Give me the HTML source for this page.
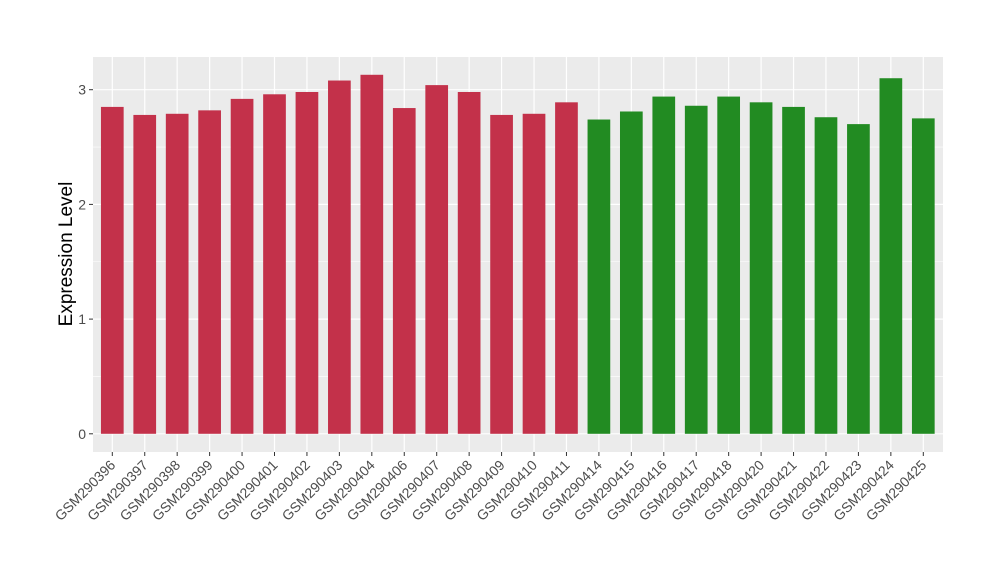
<!DOCTYPE html>
<html><head><meta charset="utf-8"><style>body{margin:0;background:#fff}svg{display:block;font-family:"Liberation Sans",Arial,sans-serif}</style></head>
<body>
<svg id="chart" width="1000" height="580">
<rect x="93" y="57" width="850" height="395" fill="#ebebeb"/>
<g id="grid"></g><g id="bars"></g><g id="yaxis"></g><g id="xaxis"></g>
<text x="0" y="0" transform="translate(72,254) rotate(-90)" text-anchor="middle" font-size="19" fill="#000">Expression Level</text>
</svg>
<script>
const categories=["GSM290396","GSM290397","GSM290398","GSM290399","GSM290400","GSM290401","GSM290402","GSM290403","GSM290404","GSM290406","GSM290407","GSM290408","GSM290409","GSM290410","GSM290411","GSM290414","GSM290415","GSM290416","GSM290417","GSM290418","GSM290420","GSM290421","GSM290422","GSM290423","GSM290424","GSM290425"];
const values=[2.85,2.78,2.79,2.82,2.92,2.96,2.98,3.08,3.13,2.84,3.04,2.98,2.78,2.79,2.89,2.74,2.81,2.94,2.86,2.94,2.89,2.85,2.76,2.70,3.10,2.75];
const groups=[0,0,0,0,0,0,0,0,0,0,0,0,0,0,0,1,1,1,1,1,1,1,1,1,1,1];
const yTicks=[0,1,2,3];
const colors=["#c3314a","#228b22"];
const NS="http://www.w3.org/2000/svg";
const x0=112.3, step=32.44, bw=22.7;
const xs=i=>x0+i*step;
const ys=v=>433.8-v*114.7;
function mk(t,a,p){const e=document.createElementNS(NS,t);for(const k in a)e.setAttribute(k,a[k]);document.getElementById(p).appendChild(e);return e;}
yTicks.forEach((t,i)=>{
  const g=mk('line',{x1:93,x2:943,y1:ys(t+0.5),y2:ys(t+0.5),stroke:'#fff','stroke-width':0.6},'grid');
  
  
  const l=mk('line',{x1:93,x2:943,y1:ys(t),y2:ys(t),stroke:'#fff','stroke-width':1.2},'grid');
  
  
  const tk=mk('line',{x1:89,x2:93,y1:ys(t),y2:ys(t),stroke:'#333','stroke-width':1},'yaxis');
  
  
  const tx=mk('text',{x:86,y:ys(t)+5,'text-anchor':'end','font-size':14,fill:'#4d4d4d'},'yaxis');
  tx.textContent=t;
  
  
});
categories.forEach((c,i)=>{
  const g=mk('line',{x1:xs(i),x2:xs(i),y1:57,y2:452,stroke:'#fff','stroke-width':1.2},'grid');
  
  
  const b=mk('rect',{x:xs(i)-bw/2,y:ys(values[i]),width:bw,height:ys(0)-ys(values[i]),fill:colors[groups[i]]},'bars');
  
  
  const tk=mk('line',{x1:xs(i),x2:xs(i),y1:452,y2:456,stroke:'#333','stroke-width':1},'xaxis');
  
  
  const tx=mk('text',{x:0,y:0,transform:`translate(${xs(i)+4},${466}) rotate(-45)`,'text-anchor':'end','font-size':14,fill:'#4d4d4d'},'xaxis');
  tx.textContent=c;
  
  
});
</script>
</body></html>
